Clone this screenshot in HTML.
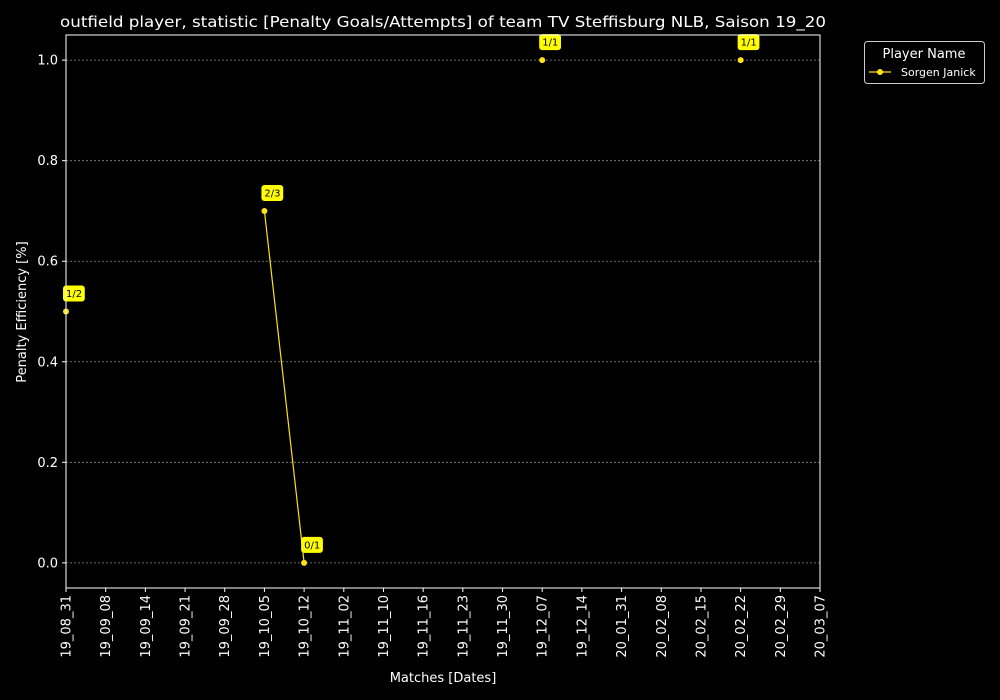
<!DOCTYPE html>
<html><head><meta charset="utf-8">
<style>
html,body{margin:0;padding:0;background:#000;}
svg{display:block;font-family:"DejaVu Sans","Liberation Sans",sans-serif;}
</style></head>
<body>
<svg id="chart" width="1000" height="700" viewBox="0 0 1000 700" xmlns="http://www.w3.org/2000/svg">
<rect width="1000" height="700" fill="#000"/>
<text x="60" y="27" fill="#fff" font-size="15.5" textLength="766" lengthAdjust="spacingAndGlyphs">outfield player, statistic [Penalty Goals/Attempts] of team TV Steffisburg NLB, Saison 19_20</text>
<g id="grid"></g>
<g id="axes"></g>
<g id="series"></g>
<rect x="66" y="35" width="754" height="553" fill="none" stroke="#fff" stroke-width="1"/>
<text x="443" y="682" fill="#fff" font-size="13" text-anchor="middle">Matches [Dates]</text>
<text transform="translate(26,312) rotate(-90)" fill="#fff" font-size="13" text-anchor="middle">Penalty Efficiency [%]</text>
<g>
<rect x="864.5" y="41.5" width="120" height="42" rx="3" fill="#000" stroke="#ccc" stroke-width="1"/>
<text x="924" y="58" fill="#fff" font-size="13" text-anchor="middle">Player Name</text>
<line x1="869" y1="72" x2="891" y2="72" stroke="#ffe11a" stroke-width="1.2"/>
<circle cx="880" cy="72" r="3" fill="#ffe11a"/>
<text x="901" y="76" fill="#fff" font-size="11">Sorgen Janick</text>
</g>
</svg>
<script>
const categories = ["19_08_31","19_09_08","19_09_14","19_09_21","19_09_28","19_10_05","19_10_12","19_11_02","19_11_10","19_11_16","19_11_23","19_11_30","19_12_07","19_12_14","20_01_31","20_02_08","20_02_15","20_02_22","20_02_29","20_03_07"];
const values = [0.5,null,null,null,null,0.7,0,null,null,null,null,null,1,null,null,null,null,1,null,null];
const labels = ["1/2",null,null,null,null,"2/3","0/1",null,null,null,null,null,"1/1",null,null,null,null,"1/1",null,null];
const yTicks = [0,0.2,0.4,0.6,0.8,1.0];
const yTickLabels = ["0.0","0.2","0.4","0.6","0.8","1.0"];

const NS="http://www.w3.org/2000/svg";
const L=66,R=820,T=35,B=588,yMin=-0.05,yMax=1.05;
const x=i=>L+i*(R-L)/(categories.length-1);
const y=v=>B-(v-yMin)/(yMax-yMin)*(B-T);
function mk(tag,attrs,parent){const e=document.createElementNS(NS,tag);for(const k in attrs)e.setAttribute(k,attrs[k]);parent.appendChild(e);return e;}
const grid=document.getElementById('grid'),axes=document.getElementById('axes'),series=document.getElementById('series');

yTicks.forEach((t,i)=>{
  const g=mk('line',{x1:L,x2:R,y1:y(t),y2:y(t),stroke:'#888','stroke-width':0.8,'stroke-dasharray':'2,2'},grid);
  
  
  const tk=mk('line',{x1:L-4,x2:L,y1:y(t),y2:y(t),stroke:'#fff'},axes);
  
  
  const tx=mk('text',{x:L-8,y:y(t)+4.5,fill:'#fff','font-size':13,'text-anchor':'end'},axes);
  tx.textContent=yTickLabels[i];
  
  
});
categories.forEach((c,i)=>{
  const tk=mk('line',{x1:x(i),x2:x(i),y1:B,y2:B+4,stroke:'#fff'},axes);
  
  
  const tx=mk('text',{transform:`translate(${x(i)+4.5},${B+7}) rotate(-90)`,fill:'#fff','font-size':13,'text-anchor':'end'},axes);
  tx.textContent=c;
  
  
});
for(let i=0;i<values.length-1;i++){
  if(values[i]!==null&&values[i+1]!==null){
    const ln=mk('line',{x1:x(i),y1:y(values[i]),x2:x(i+1),y2:y(values[i+1]),stroke:'#ffe11a','stroke-width':1.2},series);
    
    
  }
}
values.forEach((v,i)=>{
  if(v===null)return;
  const p=mk('circle',{cx:x(i),cy:y(v),r:3,fill:'#ffe11a'},series);
  
  
  const w=labels[i].length*5.6+5;
  const bx=mk('rect',{x:x(i)-3,y:y(v)-26,width:w,height:16,rx:3,fill:'#ffff00'},series);
  
  
  const t=mk('text',{x:x(i),y:y(v)-14.5,fill:'#000','font-size':10},series);
  t.textContent=labels[i];
  
  
});
</script>
</body></html>
